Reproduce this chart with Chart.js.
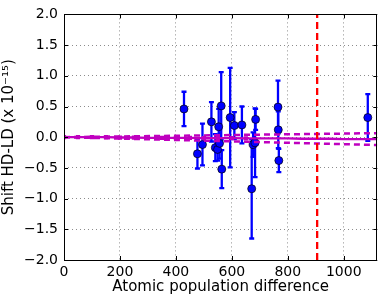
<!DOCTYPE html>
<html>
<head>
<meta charset="utf-8">
<script src="https://cdn.jsdelivr.net/npm/chart.js@4/dist/chart.umd.min.js"></script>
<style>
  html, body { margin: 0; padding: 0; background: #fff; }
  #wrap { width: 382px; height: 300px; }
</style>
</head>
<body>
<div id="wrap"><canvas id="myChart" width="382" height="300"></canvas></div>
<script>
var popDiff  = [429, 477, 495, 527, 541, 549, 553, 556, 562, 564, 594, 609, 636, 671, 676, 683, 685, 765, 766, 768, 1086];
var shift    = [0.46, -0.27, -0.12, 0.25, -0.17, -0.20, 0.17, -0.10, 0.51, -0.52, 0.32, 0.19, 0.20, -0.84, -0.12, -0.09, 0.29, 0.49, 0.12, -0.38, 0.32];
var shiftErr = [0.28, 0.24, 0.34, 0.32, 0.22, 0.18, 0.29, 0.25, 0.55, 0.31, 0.81, 0.22, 0.30, 0.81, 0.20, 0.56, 0.17, 0.43, 0.30, 0.19, 0.38];

// fit through origin and its band
var fitX     = [0, 50, 100, 150, 200, 250, 300, 350, 400, 450, 500, 550, 600, 650, 700, 750, 800, 850, 900, 950, 1000, 1050, 1120];
var fitY     = [0, 0, 0, 0, -0.005, -0.005, -0.01, -0.01, -0.01, -0.01, -0.015, -0.015, -0.015, -0.02, -0.02, -0.02, -0.02, -0.025, -0.025, -0.025, -0.03, -0.03, -0.03];
var bandX    = [0, 1120];
var bandHigh = [0, 0.066];
var bandLow  = [0, -0.127];

var cutX = 905;
var xTicks = [0, 200, 400, 600, 800, 1000];
var yTicks = [-2, -1.5, -1, -0.5, 0, 0.5, 1, 1.5, 2];

function pts(xs, ys) {
  return xs.map(function(v, i) { return {x: v, y: ys[i]}; });
}

var errorBars = {
  id: 'errorBars',
  beforeDatasetsDraw: function(chart) {
    var ctx = chart.ctx, x = chart.scales.x, y = chart.scales.y, a = chart.chartArea;
    ctx.save();
    ctx.beginPath();
    ctx.rect(a.left, a.top, a.right - a.left, a.bottom - a.top);
    ctx.clip();
    ctx.strokeStyle = '#0000ff';
    ctx.lineWidth = 2.3;
    popDiff.forEach(function(v, i) {
      var px = x.getPixelForValue(v);
      var top = y.getPixelForValue(shift[i] + shiftErr[i]);
      var bot = y.getPixelForValue(shift[i] - shiftErr[i]);
      ctx.beginPath();
      ctx.moveTo(px, top); ctx.lineTo(px, bot);
      ctx.moveTo(px - 2.5, top); ctx.lineTo(px + 2.5, top);
      ctx.moveTo(px - 2.5, bot); ctx.lineTo(px + 2.5, bot);
      ctx.stroke();
    });
    ctx.restore();
  }
};

var frame = {
  id: 'frame',
  afterDraw: function(chart) {
    var ctx = chart.ctx, x = chart.scales.x, y = chart.scales.y, a = chart.chartArea;
    ctx.save();
    ctx.strokeStyle = '#000';
    ctx.lineWidth = 1;
    ctx.beginPath();
    xTicks.forEach(function(v) {
      var px = Math.round(x.getPixelForValue(v)) + 0.5;
      ctx.moveTo(px, a.bottom); ctx.lineTo(px, a.bottom - 4);
      ctx.moveTo(px, a.top); ctx.lineTo(px, a.top + 4);
    });
    yTicks.forEach(function(v) {
      var py = Math.round(y.getPixelForValue(v)) + 0.5;
      ctx.moveTo(a.left, py); ctx.lineTo(a.left + 4, py);
      ctx.moveTo(a.right, py); ctx.lineTo(a.right - 4, py);
    });
    ctx.stroke();
    ctx.strokeRect(Math.round(a.left) + 0.5, Math.round(a.top) + 0.5,
      Math.round(a.right - a.left) - 1, Math.round(a.bottom - a.top));
    ctx.restore();
  }
};

var tickFont = {family: 'DejaVu Sans', size: 14};
var titleFont = {family: 'DejaVu Sans', size: 15};

new Chart(document.getElementById('myChart').getContext('2d'), {
  type: 'scatter',
  data: {
    datasets: [{
      type: 'line',
      data: [{x: cutX, y: -2}, {x: cutX, y: 2}],
      borderColor: '#ff0000',
      borderWidth: 2.3,
      borderDash: [7, 4],
      pointRadius: 0
    }, {
      type: 'line',
      data: pts(bandX, bandHigh),
      borderColor: '#bf00bf',
      borderWidth: 2.5,
      borderDash: [6, 4],
      pointRadius: 0
    }, {
      type: 'line',
      data: pts(bandX, bandLow),
      borderColor: '#bf00bf',
      borderWidth: 2.5,
      borderDash: [6, 4],
      pointRadius: 0
    }, {
      type: 'line',
      data: pts(fitX, fitY),
      borderColor: '#bf00bf',
      backgroundColor: '#bf00bf',
      borderWidth: 2.3,
      pointStyle: 'rect',
      pointRadius: function(c) { return c.raw && c.raw.x <= 650 ? 3 : 0; },
      pointBorderWidth: 0
    }, {
      data: pts(popDiff, shift),
      backgroundColor: '#0000ff',
      borderColor: '#000000',
      borderWidth: 0.7,
      pointRadius: 4
    }]
  },
  options: {
    responsive: false,
    animation: false,
    events: [],
    layout: {padding: {top: 7, right: 1, left: 0, bottom: 0}},
    plugins: {legend: {display: false}, tooltip: {enabled: false}},
    scales: {
      x: {
        type: 'linear',
        min: 0,
        max: 1120,
        afterBuildTicks: function(s) { s.ticks = xTicks.map(function(v) { return {value: v}; }); },
        afterFit: function(s) { s.height = 40; },
        ticks: {
          font: tickFont, color: '#000', padding: 4, maxRotation: 0,
          callback: function(v) { return String(v); }
        },
        grid: {color: 'rgba(0,0,0,0.45)', drawTicks: false, lineWidth: 1},
        border: {display: false, dash: [1, 3]},
        title: {display: true, text: 'Atomic population difference', font: titleFont, color: '#000', padding: {top: 0, bottom: 4}}
      },
      y: {
        min: -2,
        max: 2,
        afterBuildTicks: function(s) { s.ticks = yTicks.map(function(v) { return {value: v}; }); },
        afterFit: function(s) { s.width = 64; },
        ticks: {
          font: tickFont, color: '#000', padding: 6,
          callback: function(v) { return v.toFixed(1).replace('-', '\u2212'); }
        },
        grid: {color: 'rgba(0,0,0,0.45)', drawTicks: false, lineWidth: 1},
        border: {display: false, dash: [1, 3]},
        title: {display: true, text: 'Shift HD-LD (x 10\u207b\u00b9\u2075)', font: titleFont, color: '#000', padding: {top: 0, bottom: 0}}
      }
    }
  },
  plugins: [errorBars, frame]
});
</script>
</body>
</html>
